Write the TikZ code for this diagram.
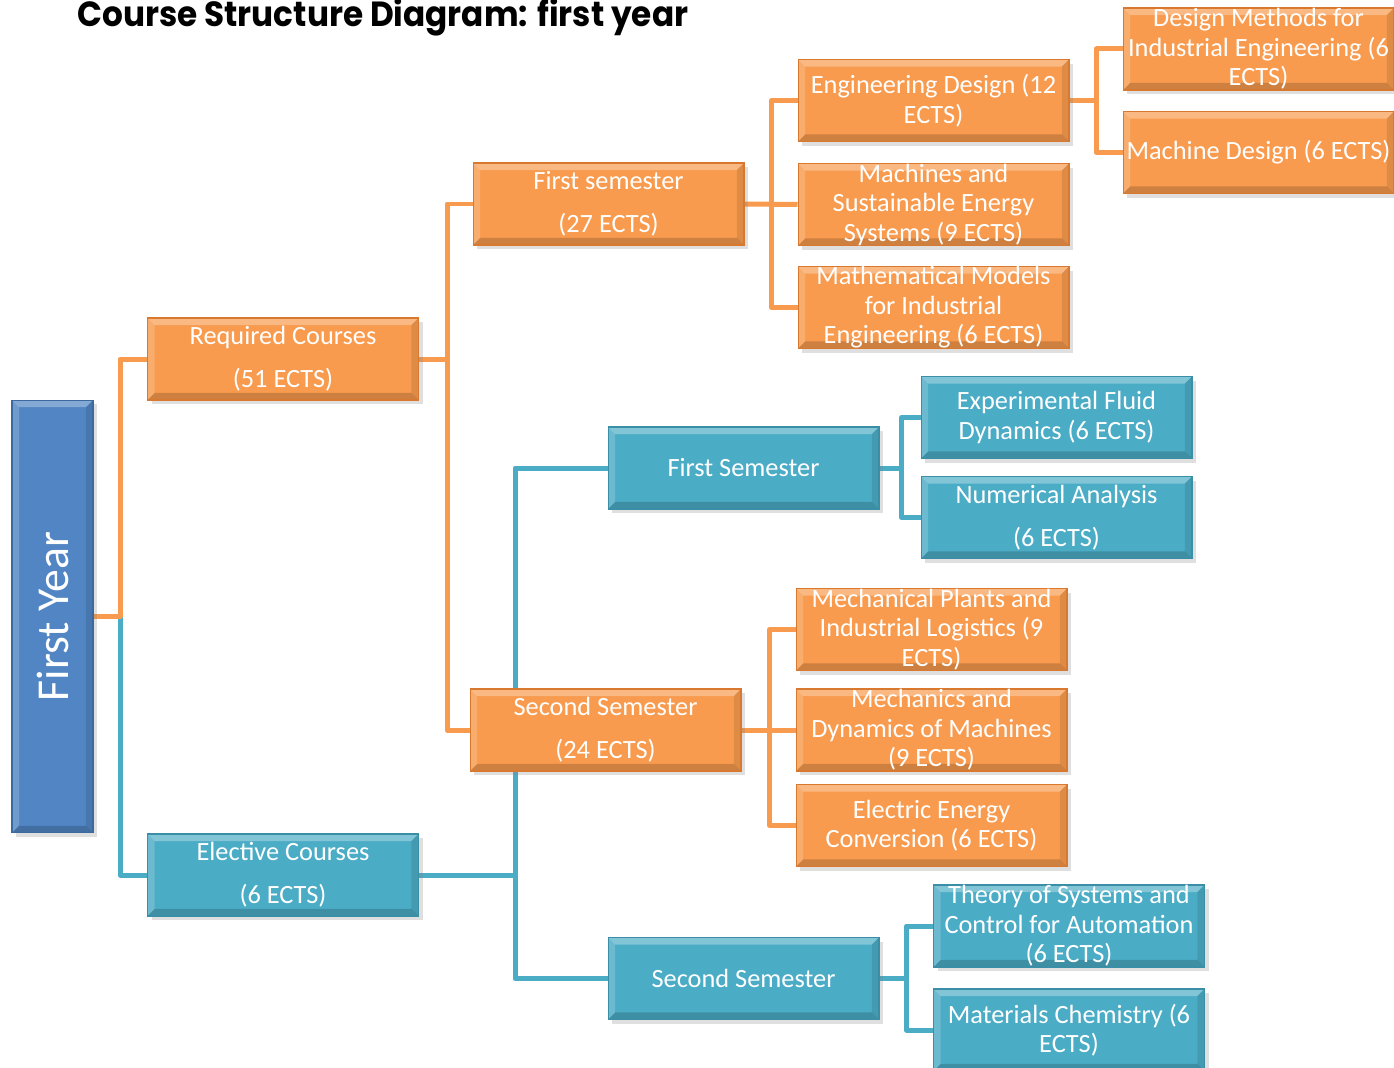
\documentclass[tikz,border=0pt]{standalone}
\usepackage{fontspec}
\usepackage{graphicx}
\setmainfont{Carlito}
\newfontfamily\titlefont{Poppins}
\usetikzlibrary{shadows}
\definecolor{orf}{HTML}{F89B4E}
\definecolor{ord}{HTML}{D9782F}
\definecolor{blf}{HTML}{4BACC6}
\definecolor{bld}{HTML}{3A8FA6}
\definecolor{fyf}{HTML}{5185C4}
\definecolor{fyd}{HTML}{3D6A9E}
\pgfdeclarelayer{bg}
\pgfsetlayers{bg,main}
\tikzset{
  bevel/.style={path picture={
    \fill[white,opacity=0.30] (path picture bounding box.north west) -- (path picture bounding box.north east) -- ([xshift=-4pt,yshift=-4pt]path picture bounding box.north east) -- ([xshift=4pt,yshift=-4pt]path picture bounding box.north west) -- cycle;
    \fill[white,opacity=0.18] (path picture bounding box.north west) -- ([xshift=4pt,yshift=-4pt]path picture bounding box.north west) -- ([xshift=4pt,yshift=4pt]path picture bounding box.south west) -- (path picture bounding box.south west) -- cycle;
    \fill[black,opacity=0.10] (path picture bounding box.north east) -- ([xshift=-4pt,yshift=-4pt]path picture bounding box.north east) -- ([xshift=-4pt,yshift=4pt]path picture bounding box.south east) -- (path picture bounding box.south east) -- cycle;
    \fill[black,opacity=0.17] (path picture bounding box.south west) -- ([xshift=4pt,yshift=4pt]path picture bounding box.south west) -- ([xshift=-4pt,yshift=4pt]path picture bounding box.south east) -- (path picture bounding box.south east) -- cycle;
  }},
  box/.style={rectangle, minimum width=5.42cm, minimum height=1.64cm, inner xsep=2pt, inner ysep=0pt,
    align=center, text=white, font=\fontsize{15}{16.8}\selectfont, line width=0.6pt,
    drop shadow={shadow xshift=2.5pt,shadow yshift=-2.5pt,opacity=0.25}, bevel},
  obox/.style={box, fill=orf, draw=ord},
  bbox/.style={box, fill=blf, draw=bld},
  fybox/.style={box, fill=fyf, draw=fyd, minimum width=1.62cm, minimum height=8.66cm, font=\fontsize{26}{30}\selectfont},
  ocon/.style={draw=orf, line width=0.1cm, line join=round},
  bcon/.style={draw=blf, line width=0.1cm, line join=round},
}
\begin{document}
\begin{tikzpicture}[x=0.02cm,y=-0.02cm]
\useasboundingbox (0,0) rectangle (1394,1068);

\node[anchor=base west, inner sep=0pt, font=\titlefont\bfseries] (title) at (77,27)
  {\resizebox{12.22cm}{0.56cm}{Course Structure Diagram: first year}};

\node[fybox] (fy) at (52.5,616.5) {\rotatebox{90}{First Year}};

\node[obox] (req) at (283,359) {Required Courses\\[7.5pt](51 ECTS)};
\node[bbox] (ele) at (283,875) {Elective Courses\\[7.5pt](6 ECTS)};

\node[obox] (s1) at (608.5,204) {First semester\\[7.5pt](27 ECTS)};
\node[obox] (s2) at (605.5,730) {Second Semester\\[7.5pt](24 ECTS)};
\node[bbox] (bs1) at (743.5,468) {First Semester};
\node[bbox] (bs2) at (743.5,978.5) {Second Semester};

\node[obox] (ed) at (933.5,100.5) {Engineering Design (12\\ECTS)};
\node[obox] (ms) at (933.5,204.5) {Machines and\\Sustainable Energy\\Systems (9 ECTS)};
\node[obox] (mm) at (933.5,307.5) {Mathematical Models\\for Industrial\\Engineering (6 ECTS)};

\node[obox] (dm) at (1258.5,49) {Design Methods for\\Industrial Engineering (6\\ECTS)};
\node[obox] (md) at (1258.5,152.5) {Machine Design (6 ECTS)};

\node[bbox] (efd) at (1056.5,417.5) {Experimental Fluid\\Dynamics (6 ECTS)};
\node[bbox] (na) at (1056.5,517.5) {Numerical Analysis\\[7.5pt](6 ECTS)};

\node[obox] (mp) at (931.5,629.5) {Mechanical Plants and\\Industrial Logistics (9\\ECTS)};
\node[obox] (mdm) at (931.5,730) {Mechanics and\\Dynamics of Machines\\(9 ECTS)};
\node[obox] (ee) at (931.5,825.5) {Electric Energy\\Conversion (6 ECTS)};

\node[bbox] (tsc) at (1069,926) {Theory of Systems and\\Control for Automation\\(6 ECTS)};
\node[bbox] (mc) at (1069,1030) {Materials Chemistry (6\\ECTS)};

\begin{pgfonlayer}{bg}
  \coordinate (j0) at (120,616.5);
  % blue connectors
  \draw[bcon] (j0) |- (ele.west);
  \draw[bcon] (ele.east) -- ++(96,0) |- (bs1.west);
  \draw[bcon] (ele.east) -- ++(96,0) |- (bs2.west);
  \draw[bcon] (bs1.east) -- ++(22,0) |- (efd.west);
  \draw[bcon] (bs1.east) -- ++(22,0) |- (na.west);
  \draw[bcon] (bs2.east) -- ++(27,0) |- (tsc.west);
  \draw[bcon] (bs2.east) -- ++(27,0) |- (mc.west);
  % orange connectors
  \draw[ocon] (fy.east) -- (j0) |- (req.west);
  \draw[ocon] (req.east) -- ++(28,0) |- (s1.west);
  \draw[ocon] (req.east) -- ++(28,0) |- (s2.west);
  \draw[ocon] (s1.east) -- ++(27,0) |- (ed.west);
  \draw[ocon] (s1.east) -- (ms.west);
  \draw[ocon] (s1.east) -- ++(27,0) |- (mm.west);
  \draw[ocon] (ed.east) -- ++(27,0) |- (dm.west);
  \draw[ocon] (ed.east) -- ++(27,0) |- (md.west);
  \draw[ocon] (s2.east) -- ++(28,0) |- (mp.west);
  \draw[ocon] (s2.east) -- (mdm.west);
  \draw[ocon] (s2.east) -- ++(28,0) |- (ee.west);
\end{pgfonlayer}
\end{tikzpicture}
\end{document}
